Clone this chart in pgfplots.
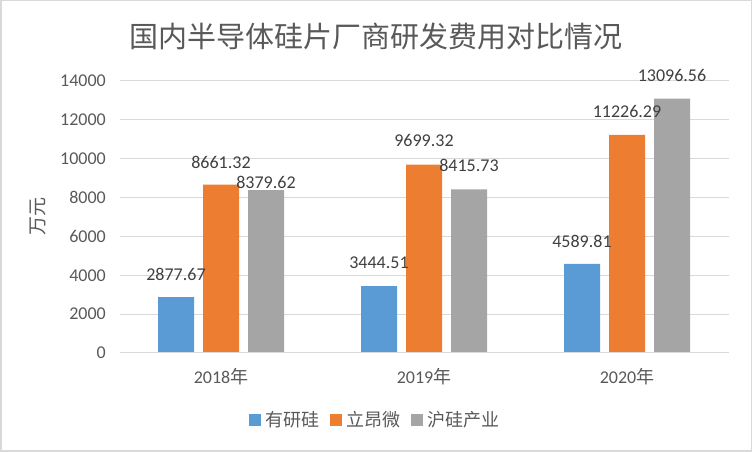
\documentclass[border=0pt]{standalone}
\usepackage{pgfplots}
\pgfplotsset{compat=1.18}
\usepackage{fontspec}
\setmainfont{Carlito}
\newfontfamily\cjk{Noto Sans CJK SC}
\definecolor{cblue}{HTML}{5B9BD5}
\definecolor{corange}{HTML}{ED7D31}
\definecolor{cgray}{HTML}{A5A5A5}
\definecolor{tgray}{HTML}{595959}
\definecolor{lgray}{HTML}{404040}
\definecolor{gridgray}{HTML}{D9D9D9}
\pgfplotstableread{
x y label dy
0 2877.67 2877.67 23
1 3444.51 3444.51 23.5
2 4589.81 4589.81 22.5
}\tblA
\pgfplotstableread{
x y label dy
0 8661.32 8661.32 22
1 9699.32 9699.32 24
2 11226.29 11226.29 23
}\tblB
\pgfplotstableread{
x y label dy
0 8379.62 8379.62 8
1 8415.73 8415.73 24
2 13096.56 13096.56 23
}\tblC
\begin{document}
\begin{tikzpicture}[x=1pt,y=1pt]
\useasboundingbox (0,0) rectangle (752,452);
\draw[color=gridgray, line width=1.5pt] (0.75,0.75) rectangle (751.25,451.25);
\node[font=\cjk\fontsize{29}{29}\selectfont, text=tgray] at (376,415) {国内半导体硅片厂商研发费用对比情况};
\begin{axis}[
  at={(119.5pt,99pt)}, anchor=south west, scale only axis,
  width=609pt, height=272pt,
  ybar=9pt, bar width=36pt,
  xmin=-0.5, xmax=2.5, ymin=0, ymax=14000,
  xtick={0,1,2},
  xticklabels={{2018\cjk 年},{2019\cjk 年},{2020\cjk 年}},
  ytick={0,2000,...,14000},
  scaled y ticks=false,
  ymajorgrids, grid style={draw=gridgray, line width=1pt},
  axis line style={draw=none},
  major tick length=0pt, tick style={draw=none},
  ticklabel style={font=\fontsize{18}{18}\selectfont, text=tgray},
  /pgf/number format/assume math mode=true,
  /pgf/number format/1000 sep={},
  /pgf/number format/fixed,
  yticklabel style={inner sep=0pt, anchor=east, xshift=-13.5pt},
  xticklabel style={inner sep=0pt, anchor=base, yshift=-31pt},
  ylabel={\cjk 万元},
  every axis y label/.style={at={(-0.1338,0.5)}, rotate=90, anchor=center, font=\fontsize{19}{19}\selectfont, text=tgray},
  every axis plot post/.append style={legend image code/.code={\fill[##1] (0pt,-6pt) rectangle (12pt,6pt);}},
  legend style={at={(0.42,-0.246)}, anchor=center, draw=none, fill=none, legend columns=3,
    font=\cjk\fontsize{18}{18}\selectfont, text=tgray,
    /tikz/every odd column/.append style={column sep=3pt},
    /tikz/every even column/.append style={column sep=8pt}},
  nodes near coords,
  point meta=explicit symbolic,
  visualization depends on={\thisrow{dy}\as\dy},
  nodes near coords style={anchor=center, yshift=\dy pt, font=\fontsize{18}{18}\selectfont, text=lgray, inner sep=0pt},
]
\addplot[fill=cblue, draw=none] table[x=x, y=y, meta=label] {\tblA};
\addplot[fill=corange, draw=none] table[x=x, y=y, meta=label] {\tblB};
\addplot[fill=cgray, draw=none] table[x=x, y=y, meta=label] {\tblC};
\draw[gridgray, line width=1pt] (axis cs:-0.5,0) -- (axis cs:2.5,0);
\legend{有研硅,立昂微,沪硅产业}
\end{axis}
\end{tikzpicture}
\end{document}
